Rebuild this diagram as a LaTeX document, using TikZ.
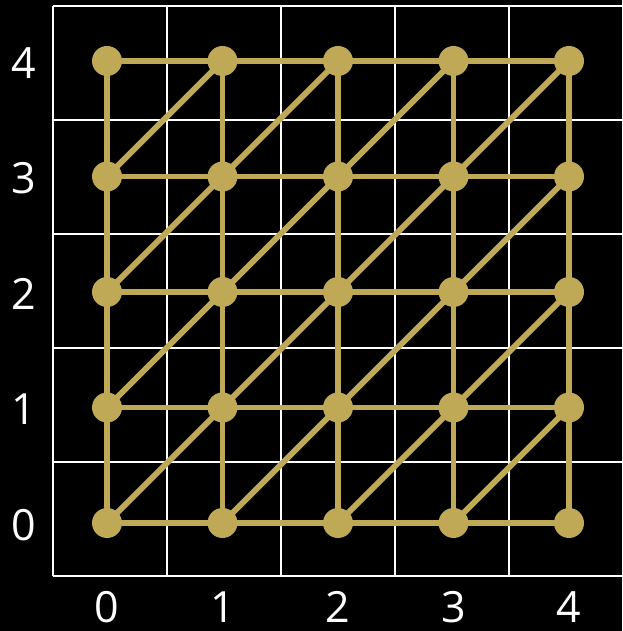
\documentclass[tikz,border=0pt]{standalone}
\usepackage{fontspec}
\setmainfont{Open Sans}
\usetikzlibrary{backgrounds}
\definecolor{gold}{RGB}{191,169,86}
\tikzset{
  dot/.style={circle,fill=gold,inner sep=0pt,minimum size=30pt},
  link/.style={draw=gold,line width=5.8pt},
  gridline/.style={draw=white,line width=2pt},
  lab/.style={text=white,font=\fontsize{43}{43}\selectfont,inner sep=0pt}
}
\begin{document}
\begin{tikzpicture}[x=1pt,y=1pt]
\useasboundingbox (0,0) rectangle (622,631);
% nodes
\foreach \i in {0,...,4}{
  \foreach \j in {0,...,4}{
    \node[dot] (n\i\j) at ({107+115.5*\i},{108+115.5*\j}) {};
  }
}
% axis labels
\foreach \i in {0,...,4}{
  \node[lab] (bx\i) at ({107+115.5*\i},24) {\i};
  \node[lab] (ly\i) at (24,{106+115.5*\i}) {\i};
}
\begin{scope}[on background layer]
  \fill[black] (0,0) rectangle (622,631);
  \foreach \k in {0,...,4}{
    \draw[gridline] ({53+114*\k},54.5) -- ({53+114*\k},624.5);
  }
  \foreach \k in {0,...,5}{
    \draw[gridline] (53,{54.5+114*\k}) -- (622,{54.5+114*\k});
  }
  \foreach \i in {0,...,4}{
    \foreach \j [evaluate=\j as \jn using int(\j+1)] in {0,...,3}{
      \draw[link] (n\i\j.center) -- (n\i\jn.center);
      \draw[link] (n\j\i.center) -- (n\jn\i.center);
    }
  }
  \foreach \i [evaluate=\i as \in using int(\i+1)] in {0,...,3}{
    \foreach \j [evaluate=\j as \jn using int(\j+1)] in {0,...,3}{
      \draw[link] (n\i\j.center) -- (n\in\jn.center);
    }
  }
\end{scope}
\end{tikzpicture}
\end{document}
